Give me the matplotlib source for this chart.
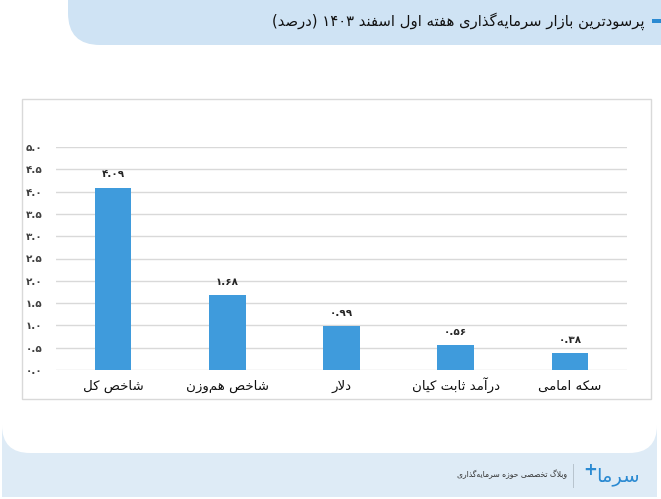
import re
import matplotlib
matplotlib.use("Agg")
import matplotlib.pyplot as plt
from matplotlib.patches import FancyBboxPatch, Rectangle
import numpy as np

# chart data
title = "پرسودترین بازار سرمایه‌گذاری هفته اول اسفند ۱۴۰۳ (درصد)"
categories = ["شاخص کل", "شاخص هم‌وزن", "دلار", "درآمد ثابت کیان", "سکه امامی"]
values = [4.09, 1.68, 0.99, 0.56, 0.38]
y_ticks = [0.0, 0.5, 1.0, 1.5, 2.0, 2.5, 3.0, 3.5, 4.0, 4.5, 5.0]
footer_text = "وبلاگ تخصصی حوزه سرمایه‌گذاری"
logo_text = "سرما"

BAR_COLOR = "#3f9bdc"
BANNER = "#cfe3f4"
FOOTER_BG = "#deebf6"
ACCENT = "#2b8ad2"

# (isolated, final, initial, medial) presentation forms
FORMS = {
    "\u0622": (0xFE81, 0xFE82, None, None),
    "\u0627": (0xFE8D, 0xFE8E, None, None),
    "\u0628": (0xFE8F, 0xFE90, 0xFE91, 0xFE92),
    "\u067E": (0xFB56, 0xFB57, 0xFB58, 0xFB59),
    "\u062A": (0xFE95, 0xFE96, 0xFE97, 0xFE98),
    "\u062B": (0xFE99, 0xFE9A, 0xFE9B, 0xFE9C),
    "\u062D": (0xFEA1, 0xFEA2, 0xFEA3, 0xFEA4),
    "\u062E": (0xFEA5, 0xFEA6, 0xFEA7, 0xFEA8),
    "\u062F": (0xFEA9, 0xFEAA, None, None),
    "\u0630": (0xFEAB, 0xFEAC, None, None),
    "\u0631": (0xFEAD, 0xFEAE, None, None),
    "\u0632": (0xFEAF, 0xFEB0, None, None),
    "\u0633": (0xFEB1, 0xFEB2, 0xFEB3, 0xFEB4),
    "\u0634": (0xFEB5, 0xFEB6, 0xFEB7, 0xFEB8),
    "\u0635": (0xFEB9, 0xFEBA, 0xFEBB, 0xFEBC),
    "\u0641": (0xFED1, 0xFED2, 0xFED3, 0xFED4),
    "\u06A9": (0xFB8E, 0xFB8F, 0xFB90, 0xFB91),
    "\u06AF": (0xFB92, 0xFB93, 0xFB94, 0xFB95),
    "\u0644": (0xFEDD, 0xFEDE, 0xFEDF, 0xFEE0),
    "\u0645": (0xFEE1, 0xFEE2, 0xFEE3, 0xFEE4),
    "\u0646": (0xFEE5, 0xFEE6, 0xFEE7, 0xFEE8),
    "\u0647": (0xFEE9, 0xFEEA, 0xFEEB, 0xFEEC),
    "\u0648": (0xFEED, 0xFEEE, None, None),
    "\u06CC": (0xFBFC, 0xFBFD, 0xFBFE, 0xFBFF),
}


def fa(s):
    """shape persian text and put it in visual (left to right) order"""
    out = []
    i, n = 0, len(s)
    while i < n:
        c = s[i]
        if c == "\u200c":
            i += 1
            continue
        if c not in FORMS:
            out.append(c)
            i += 1
            continue
        prev = s[i - 1] if i > 0 else None
        joins_prev = prev in FORMS and FORMS[prev][2] is not None
        if c == "\u0644" and i + 1 < n and s[i + 1] in ("\u0627", "\u0622"):
            lig = (0xFEFB, 0xFEFC) if s[i + 1] == "\u0627" else (0xFEF5, 0xFEF6)
            out.append(chr(lig[1] if joins_prev else lig[0]))
            i += 2
            continue
        nxt = s[i + 1] if i + 1 < n else None
        joins_next = FORMS[c][2] is not None and nxt in FORMS
        iso, fin, ini, med = FORMS[c]
        if joins_prev and joins_next:
            g = med
        elif joins_prev:
            g = fin
        elif joins_next:
            g = ini
        else:
            g = iso
        out.append(chr(g))
        i += 1
    vis = "".join(reversed(out)).translate(str.maketrans("()", ")("))
    return re.sub(r"[0-9\u06F0-\u06F9.]+", lambda m: m.group(0)[::-1], vis)


def fa_num(txt):
    return txt.translate(str.maketrans("0123456789", "۰۱۲۳۴۵۶۷۸۹"))


W, H, DPI = 661, 499, 100
fig = plt.figure(figsize=(W / DPI, H / DPI), dpi=DPI, facecolor="white")
tr = fig.dpi_scale_trans


def px(x, y):
    # pixel coords (top-left origin) -> inches
    return x / DPI, (H - y) / DPI


# background pieces
x0, y0 = px(2, 497)
fig.add_artist(Rectangle((x0, y0), 655 / DPI, 80 / DPI, transform=tr,
                         facecolor=FOOTER_BG, edgecolor="none", zorder=0))
x0, y0 = px(2, 453)
fig.add_artist(FancyBboxPatch((x0 + 0.28, y0 + 0.28), 655 / DPI - 0.56, 5.0,
                              boxstyle="round,pad=0.28", transform=tr,
                              facecolor="white", edgecolor="none", zorder=0.5))
x0, y0 = px(68, 45)
fig.add_artist(FancyBboxPatch((x0 + 0.32, y0 + 0.32), 8.0, 1.0,
                              boxstyle="round,pad=0.32", transform=tr,
                              facecolor=BANNER, edgecolor="none", zorder=1))
# chart frame
x0, y0 = px(22, 399)
fig.add_artist(Rectangle((x0, y0), 629 / DPI, 300 / DPI, transform=tr,
                         facecolor="white", edgecolor="#d9d9d9", lw=1, zorder=1))

# title + marker
tx, ty = px(644, 21)
fig.text(tx, ty, fa(title), transform=tr, ha="right", va="center",
         fontsize=10.6, color="#111111", zorder=3)
mx, my = px(652, 23)
fig.add_artist(Rectangle((mx, my), 9 / DPI, 4 / DPI, transform=tr,
                         facecolor=ACCENT, edgecolor="none", zorder=3))

# bars
ax = fig.add_axes([56 / W, (H - 370) / H, 571 / W, 223 / H], zorder=2)
ax.set_facecolor("none")
x = np.arange(len(categories))
bars = ax.bar(x, values, width=0.32, color=BAR_COLOR, zorder=3)
for b, v in zip(bars, values):
    ax.annotate(fa_num(f"{v:.2f}"), (b.get_x() + b.get_width() / 2, v),
                xytext=(0, 6), textcoords="offset points", ha="center",
                va="bottom", fontsize=7.5, fontweight="bold", color="#262626")

ax.set_xlim(-0.5, len(categories) - 0.5)
ax.set_ylim(0, 5)
ax.set_yticks(y_ticks)
ax.set_yticklabels([fa_num(f"{t:.1f}") for t in y_ticks], fontsize=7.5,
                   fontweight="bold", color="#404040")
ax.set_xticks(x)
ax.set_xticklabels([fa(c) for c in categories], fontsize=9.6, color="#111111")
for lab in ax.get_xticklabels():
    lab.set_va("baseline")
ax.tick_params(axis="both", length=0)
ax.tick_params(axis="y", pad=10)
ax.tick_params(axis="x", pad=14)
ax.grid(axis="y", color="#d9d9d9", lw=1, zorder=0)
for s in ax.spines.values():
    s.set_visible(False)

# footer
sx, sy = px(573, 488)
fig.add_artist(Rectangle((sx, sy), 0.6 / DPI, 24 / DPI, transform=tr,
                         facecolor="#b8c4ce", edgecolor="none", zorder=3))
fx, fy = px(567, 474)
fig.text(fx, fy, fa(footer_text), transform=tr, ha="right", va="center",
         fontsize=5.5, color="#333333", zorder=3)
lx, ly = px(640, 476)
fig.text(lx, ly, fa(logo_text), transform=tr, ha="right", va="center",
         fontsize=14, color=ACCENT, zorder=3)
lx, ly = px(590, 470)
fig.text(lx, ly, "+", transform=tr, ha="center", va="center",
         fontsize=12, fontweight="bold", color=ACCENT, zorder=3)

fig.savefig("out.png", dpi=DPI, facecolor="white")
